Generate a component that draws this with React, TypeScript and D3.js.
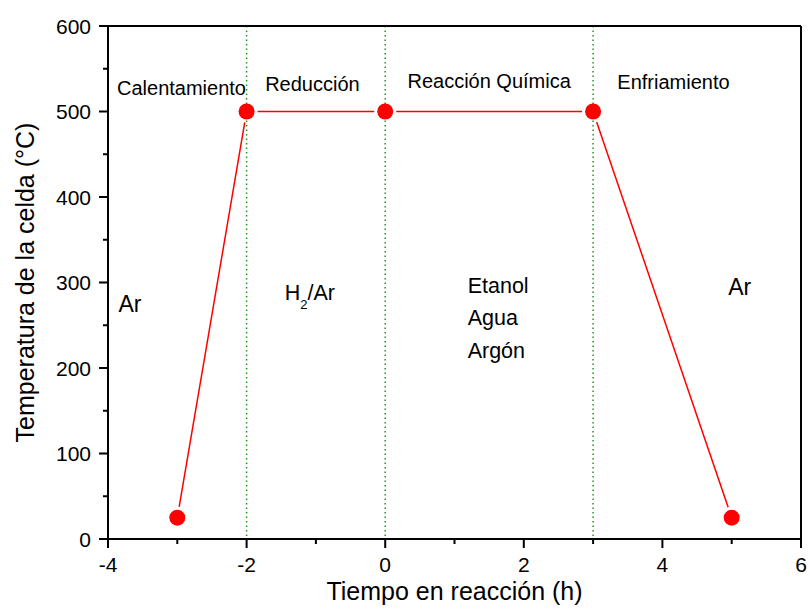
import React from "react";
import * as d3 from "d3";

// Temperature programme of the cell
const timeH = [-3, -2, 0, 3, 5];
const tempC = [25, 500, 500, 500, 25];

// Stage boundaries (dotted lines)
const stageBounds = [-2, 0, 3];

// Axis ticks
const xTicks = [-4, -2, 0, 2, 4, 6];
const xMinor = [-3, -1, 1, 3, 5];
const yTicks = [0, 100, 200, 300, 400, 500, 600];
const yMinor = [50, 150, 250, 350, 450, 550];

// Stage titles and gas atmospheres
const stageTitles = [
  { text: "Calentamiento", x: -3.87, y: 519, anchor: "start" },
  { text: "Reducción", x: -1.05, y: 524, anchor: "middle" },
  { text: "Reacción Química", x: 1.5, y: 528, anchor: "middle" },
  { text: "Enfriamiento", x: 3.35, y: 526, anchor: "start" },
];
const gasLabels = [
  { text: "Ar", x: -3.85, y: 265, size: 23 },
  { text: "Ar", x: 4.95, y: 285, size: 23 },
];
const gasMix = ["Etanol", "Agua", "Argón"];

const W = 809;
const H = 608;
const M = { left: 108, right: 801, top: 26, bottom: 539 };
const FONT = "'Liberation Sans', Arial, sans-serif";

export default function App() {
  const x = d3.scaleLinear().domain([-4, 6]).range([M.left, M.right]);
  const y = d3.scaleLinear().domain([0, 600]).range([M.bottom, M.top]);

  const pts = timeH.map((t, i) => [x(t), y(tempC[i])] as [number, number]);
  const r = 8;
  const gap = r + 3;
  const segs = pts.slice(1).map((p, i) => {
    const a = pts[i];
    const dx = p[0] - a[0];
    const dy = p[1] - a[1];
    const len = Math.hypot(dx, dy);
    const ux = dx / len;
    const uy = dy / len;
    return [a[0] + ux * gap, a[1] + uy * gap, p[0] - ux * gap, p[1] - uy * gap];
  });

  return (
    <svg width={W} height={H} style={{ position: "absolute", left: 0, top: 0, background: "#fff" }} fontFamily={FONT}>
      {/* stage boundaries */}
      {stageBounds.map((b) => (
        <line key={b} x1={x(b)} x2={x(b)} y1={M.top} y2={M.bottom} stroke="#1a9a1a" strokeWidth={1.5} strokeDasharray="1.5,3" />
      ))}

      {/* frame */}
      <line x1={M.left} x2={M.right} y1={M.top} y2={M.top} stroke="#000" strokeWidth={2} />
      <line x1={M.right} x2={M.right} y1={M.top} y2={M.bottom} stroke="#000" strokeWidth={2} />
      <line x1={M.left} x2={M.left} y1={M.top - 1} y2={M.bottom + 1} stroke="#000" strokeWidth={2} />
      <line x1={M.left - 1} x2={M.right + 1} y1={M.bottom} y2={M.bottom} stroke="#000" strokeWidth={2} />

      {/* x ticks */}
      {xTicks.map((t) => (
        <g key={t}>
          <line x1={x(t)} x2={x(t)} y1={M.bottom} y2={M.bottom + 9} stroke="#000" strokeWidth={2} />
          <text x={x(t)} y={572} fontSize={21} textAnchor="middle" fill="#000">{t}</text>
        </g>
      ))}
      {xMinor.map((t) => (
        <line key={t} x1={x(t)} x2={x(t)} y1={M.bottom} y2={M.bottom + 5} stroke="#000" strokeWidth={2} />
      ))}

      {/* y ticks */}
      {yTicks.map((t) => (
        <g key={t}>
          <line x1={M.left - 9} x2={M.left} y1={y(t)} y2={y(t)} stroke="#000" strokeWidth={2} />
          <text x={91} y={y(t) + 7.5} fontSize={21} textAnchor="end" fill="#000">{t}</text>
        </g>
      ))}
      {yMinor.map((t) => (
        <line key={t} x1={M.left - 5} x2={M.left} y1={y(t)} y2={y(t)} stroke="#000" strokeWidth={2} />
      ))}

      {/* axis titles */}
      <text x={(M.left + M.right) / 2} y={600} fontSize={25} textAnchor="middle" fill="#000">Tiempo en reacción (h)</text>
      <text transform={`translate(34,${(M.top + M.bottom) / 2}) rotate(-90)`} fontSize={25} textAnchor="middle" fill="#000">
        Temperatura de la celda (°C)
      </text>

      {/* temperature profile */}
      {segs.map((s, i) => (
        <line key={i} x1={s[0]} y1={s[1]} x2={s[2]} y2={s[3]} stroke="#ff0000" strokeWidth={1.5} />
      ))}
      {pts.map((p, i) => (
        <circle key={i} cx={p[0]} cy={p[1]} r={r} fill="#ff0000" />
      ))}

      {/* stage titles */}
      {stageTitles.map((s) => (
        <text key={s.text} x={x(s.x)} y={y(s.y)} fontSize={20} textAnchor={s.anchor} fill="#000">{s.text}</text>
      ))}

      {/* atmospheres */}
      {gasLabels.map((g, i) => (
        <text key={i} x={x(g.x)} y={y(g.y)} fontSize={g.size} fill="#000">{g.text}</text>
      ))}
      <text x={x(-1.45)} y={y(279)} fontSize={21.5} fill="#000">
        H<tspan fontSize={13} dy={9}>2</tspan><tspan dy={-9}>/Ar</tspan>
      </text>
      {gasMix.map((g, i) => (
        <text key={g} x={x(1.19)} y={y(288) + i * 32.5} fontSize={21.5} fill="#000">{g}</text>
      ))}
    </svg>
  );
}
